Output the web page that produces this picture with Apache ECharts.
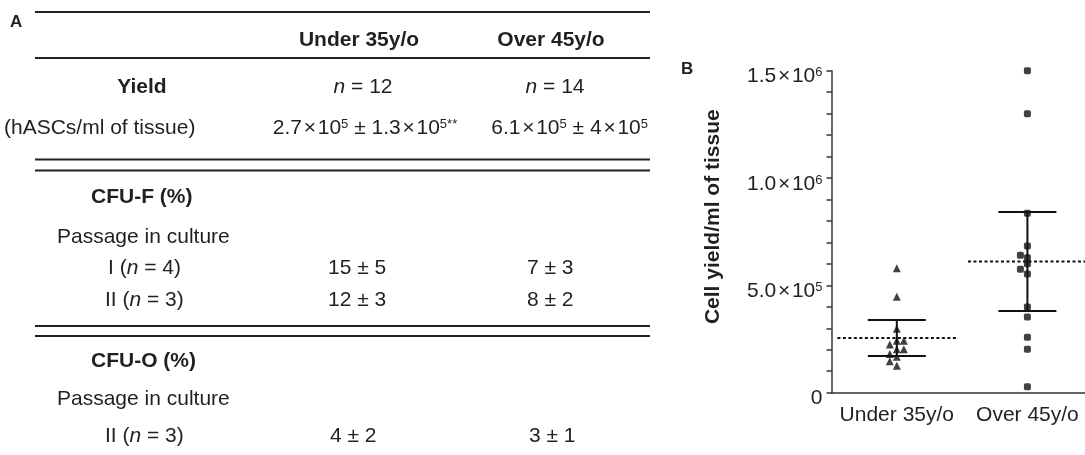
<!DOCTYPE html>
<html><head><meta charset="utf-8">
<script src="https://cdn.jsdelivr.net/npm/echarts@6/dist/echarts.min.js"></script>
<style>html,body{margin:0;padding:0;background:#fff}#c{width:1085px;height:455px}</style>
</head><body><div id="c"></div>
<script>
// ---------------- data ----------------
const groups = ['Under 35y/o', 'Over 45y/o'];
const under35 = [5.8e5, 4.47e5, 2.98e5, 2.42e5, 2.42e5, 2.25e5, 2.02e5, 2.02e5, 1.8e5, 1.68e5, 1.46e5, 1.26e5];
const over45 = [1.5e6, 1.3e6, 8.36e5, 6.83e5, 6.4e5, 6.29e5, 6.01e5, 5.75e5, 5.53e5, 3.99e5, 3.53e5, 2.58e5, 2.02e5, 0.28e5];
const yTicks = [0, 5e5, 1e6, 1.5e6];
const tCrit95 = {11: 2.201, 13: 2.160}; // two-sided 95% t quantiles by df

// table (panel A)
const tableHeader = ['Under 35y/o', 'Over 45y/o'];
const yieldN = ['{i|n} = 12', '{i|n} = 14'];
const yieldValues = ['2.7\u200a×\u200a10{s|5} ± 1.3\u200a×\u200a10{s|5**}', '6.1\u200a×\u200a10{s|5} ± 4\u200a×\u200a10{s|5}'];
const cfuFRows = [['I ({i|n} = 4)', '15 ± 5', '7 ± 3'], ['II ({i|n} = 3)', '12 ± 3', '8 ± 2']];
const cfuORows = [['II ({i|n} = 3)', '4 ± 2', '3 ± 1']];

// ---------------- rendering ----------------
const FONT = "'Liberation Sans', Arial, Helvetica, sans-serif";
const INK = '#231f20';
const FS = 21;
const chart = echarts.init(document.getElementById('c'), null, {renderer: 'canvas'});

const richG = {
  b: {fontWeight: 'bold', fontSize: FS, fontFamily: FONT, fill: INK},
  i: {fontStyle: 'italic', fontSize: FS, fontFamily: FONT, fill: INK},
  s: {fontSize: 13, fontFamily: FONT, fill: INK, verticalAlign: 'top'}
};
function txt(x, y, text, align, bold, size) {
  return {type: 'text', x: x, y: y, silent: true, style: {
    text: text, fill: INK, fontSize: size || FS, fontFamily: FONT, fontWeight: bold ? 'bold' : 'normal',
    textAlign: align, align: align, textVerticalAlign: 'middle', verticalAlign: 'middle', rich: richG}};
}
function rule(y) {
  return {type: 'line', silent: true, shape: {x1: 35, y1: y, x2: 650, y2: y}, style: {stroke: '#222', lineWidth: 2}};
}
const colX = [359, 551];
const g = [];
g.push(txt(10, 22, 'A', 'left', true, 17));
g.push(txt(681, 69, 'B', 'left', true, 17));
g.push(rule(12), rule(58), rule(159.5), rule(170.5), rule(326), rule(336));
tableHeader.forEach((h, i) => g.push(txt(colX[i], 40, h, 'center', true)));
g.push(txt(142, 87, 'Yield', 'center', true));
yieldN.forEach((t, i) => g.push(txt(colX[i] + 4, 87, t, 'center')));
g.push(txt(4, 128, '(hASCs/ml of tissue)', 'left'));
g.push(txt(365, 128, yieldValues[0], 'center'));
g.push(txt(648, 128, yieldValues[1], 'right'));
g.push(txt(91, 197, 'CFU-F (%)', 'left', true));
g.push(txt(57, 237, 'Passage in culture', 'left'));
cfuFRows.forEach((r, i) => {
  const y = [268, 300][i];
  g.push(txt(i === 0 ? 108 : 105, y, r[0], 'left'));
  g.push(txt(328, y, r[1], 'left'));
  g.push(txt(527, y, r[2], 'left'));
});
g.push(txt(91, 361, 'CFU-O (%)', 'left', true));
g.push(txt(57, 399, 'Passage in culture', 'left'));
cfuORows.forEach(r => {
  g.push(txt(105, 436, r[0], 'left'));
  g.push(txt(330, 436, r[1], 'left'));
  g.push(txt(529, 436, r[2], 'left'));
});

function yLabel(v) {
  if (v === 0) return '{m|0}';
  const e = Math.floor(Math.log10(v) + 1e-9);
  const m = (v / Math.pow(10, e)).toFixed(1);
  return '{m|' + m + '\u200a×\u200a10}{s|' + e + '}';
}
function xLabel(v) {
  const i = Math.floor(v);
  return (Math.abs(v - i - 0.5) < 1e-6 && groups[i]) ? groups[i] : '';
}

const option = {
  animation: false,
  graphic: {elements: g},
  grid: {left: 831.5, right: 0, top: 70.7, bottom: 62.3},
  xAxis: {type: 'value', min: 0, max: 1.941, interval: 0.5,
    axisLine: {show: true, lineStyle: {color: '#333', width: 1.5}}, axisTick: {show: false},
    axisLabel: {fontSize: FS, color: INK, fontFamily: FONT, margin: 12, formatter: xLabel,
                showMinLabel: true, showMaxLabel: false},
    splitLine: {show: false}},
  yAxis: {
    type: 'value', min: yTicks[0], max: yTicks[yTicks.length - 1], interval: yTicks[1] - yTicks[0],
    axisLine: {show: true, lineStyle: {color: '#333', width: 1.5}},
    axisTick: {show: true, length: 5, lineStyle: {color: '#333', width: 1.5}},
    minorTick: {show: true, splitNumber: 5, length: 5, lineStyle: {color: '#333', width: 1.5}},
    splitLine: {show: false},
    axisLabel: {margin: 9, formatter: yLabel, padding: [12, 0, 0, 0], rich: {
      m: {fontSize: FS, color: INK, fontFamily: FONT},
      s: {fontSize: 13, color: INK, fontFamily: FONT, verticalAlign: 'top'}}},
    name: 'Cell yield/ml of tissue', nameLocation: 'middle', nameGap: 108,
    nameTextStyle: {fontWeight: 'bold', fontSize: FS, color: INK, fontFamily: FONT, padding: [0, 0, 0, 30]}
  },
  series: []
};
chart.setOption(option);

// statistics: mean and 95% CI
function stats(arr) {
  const n = arr.length, mean = arr.reduce((a, b) => a + b, 0) / n;
  const sd = Math.sqrt(arr.reduce((a, b) => a + (b - mean) * (b - mean), 0) / (n - 1));
  const h = tCrit95[n - 1] * sd / Math.sqrt(n);
  return [mean, mean - h, mean + h];
}
// beeswarm layout in pixel space using the chart's own scales
function swarm(arr, gi) {
  const cx = chart.convertToPixel({xAxisIndex: 0}, gi + 0.5);
  const pts = arr.map(v => ({v: v, py: chart.convertToPixel({yAxisIndex: 0}, v)}));
  pts.sort((a, b) => a.v - b.v);
  const placed = [], D = 6, step = 7;
  pts.forEach(p => {
    for (let k = 0; k < 20; k++) {
      const off = k === 0 ? 0 : (k % 2 ? -1 : 1) * Math.ceil(k / 2) * step;
      const px = cx + off;
      if (placed.every(q => Math.hypot(q.px - px, q.py - p.py) >= D)) { p.px = px; placed.push(p); break; }
    }
  });
  return placed.map(p => [chart.convertFromPixel({xAxisIndex: 0}, p.px), p.v]);
}
const errData = [under35, over45].map((arr, gi) => [gi + 0.5].concat(stats(arr)));

chart.setOption({series: [
  {type: 'custom', coordinateSystem: 'cartesian2d', silent: true, clip: false,
   encode: {x: 0, y: [1, 2, 3]}, data: errData, z: 1,
   renderItem: function (params, api) {
     const x = api.value(0), m = api.value(1), lo = api.value(2), hi = api.value(3);
     const pH = api.coord([x, hi]), pL = api.coord([x, lo]), pM = api.coord([x, m]);
     const cap = api.size([0.222, 0])[0], mh = api.size([0.455, 0])[0];
     const st = {stroke: '#111', lineWidth: 2};
     return {type: 'group', children: [
       {type: 'line', shape: {x1: pH[0], y1: pH[1], x2: pL[0], y2: pL[1]}, style: st},
       {type: 'line', shape: {x1: pH[0] - cap, y1: pH[1], x2: pH[0] + cap, y2: pH[1]}, style: st},
       {type: 'line', shape: {x1: pL[0] - cap, y1: pL[1], x2: pL[0] + cap, y2: pL[1]}, style: st},
       {type: 'line', shape: {x1: pM[0] - mh, y1: pM[1], x2: pM[0] + mh, y2: pM[1]},
        style: {stroke: '#111', lineWidth: 1.8, lineDash: [3, 2.5]}}
     ]};
   }},
  {type: 'scatter', name: groups[0], symbol: 'triangle', symbolSize: 8,
   itemStyle: {color: '#111'}, data: swarm(under35, 0), z: 3, silent: true},
  {type: 'scatter', name: groups[1], symbol: 'roundRect', symbolSize: 7,
   itemStyle: {color: '#111'}, data: swarm(over45, 1), z: 3, silent: true}
]});
</script></body></html>
